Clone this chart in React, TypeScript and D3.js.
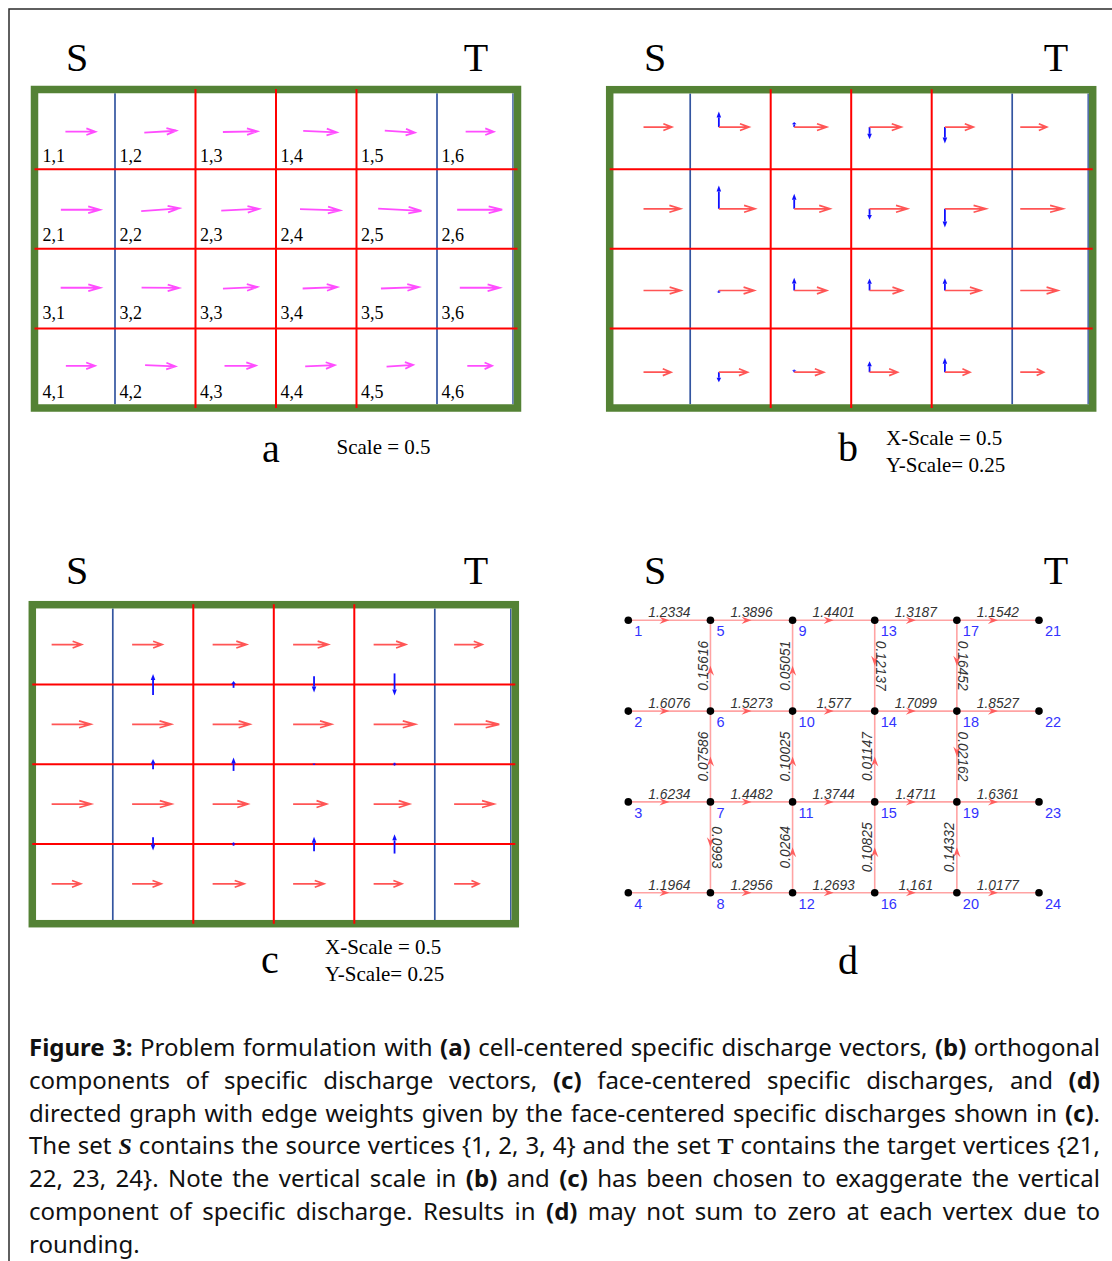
import React, { useMemo } from 'react';
import * as d3 from 'd3';

const WIDTH = 1112;
const HEIGHT = 1261;

// ---- data -------------------------------------------------------------
const ROWS = [0, 1, 2, 3];
const COLS = [0, 1, 2, 3, 4, 5];

// Face-centred horizontal discharge through interior faces (graph edge weights), one array per row
const hWeights: number[][] = [
  [1.2334, 1.3896, 1.4401, 1.3187, 1.1542],
  [1.6076, 1.5273, 1.577, 1.7099, 1.8527],
  [1.6234, 1.4482, 1.3744, 1.4711, 1.6361],
  [1.1964, 1.2956, 1.2693, 1.161, 1.0177],
];
// Inflow through the left boundary face of each row
const leftInflow = [1.2334, 1.6076, 1.6234, 1.1964];
// Vertical discharge through the interior horizontal faces (+ = upward), grid columns 2..5
const vFlux: number[][] = [
  [0.15616, 0.05051, -0.12137, -0.16452],
  [0.07586, 0.10025, 0.01147, -0.02162],
  [-0.0993, 0.0264, 0.10825, 0.14332],
];
// Cell-centred specific discharge components
const cellQx: number[][] = [
  [1.233, 1.312, 1.415, 1.379, 1.236, 1.154],
  [1.608, 1.567, 1.552, 1.643, 1.781, 1.853],
  [1.623, 1.536, 1.411, 1.423, 1.554, 1.636],
  [1.196, 1.246, 1.282, 1.215, 1.089, 1.018],
];
const cellQy: number[][] = [
  [0, 0.078, 0.025, -0.061, -0.082, 0],
  [0, 0.116, 0.075, -0.055, -0.093, 0],
  [0, -0.012, 0.063, 0.06, 0.061, 0],
  [0, -0.05, 0.013, 0.054, 0.072, 0],
];

const panelLetters = ['a', 'b', 'c', 'd'];
const scaleNotes = [['Scale = 0.5'], ['X-Scale = 0.5', 'Y-Scale= 0.25'], ['X-Scale = 0.5', 'Y-Scale= 0.25'], []];

const captionLines = [
  '*Figure* *3:* Problem formulation with *(a)* cell-centered specific discharge vectors, *(b)* orthogonal',
  'components of specific discharge vectors, *(c)* face-centered specific discharges, and *(d)*',
  'directed graph with edge weights given by the face-centered specific discharges shown in *(c)*.',
  'The set ^S^ contains the source vertices {1, 2, 3, 4} and the set ~T~ contains the target vertices {21,',
  '22, 23, 24}. Note the vertical scale in *(b)* and *(c)* has been chosen to exaggerate the vertical',
  'component of specific discharge. Results in *(d)* may not sum to zero at each vertex due to',
  'rounding.',
];

// ---- styling ----------------------------------------------------------
const SERIF = '"Liberation Serif", "Times New Roman", serif';
const SANS = '"Liberation Sans", Arial, sans-serif';
const CAPTION_FONT = '"Noto Sans", sans-serif';
const CAPTION_SIZE = 24;
const GREEN = '#548235';
const GRID_RED = '#ff0000';
const GRID_BLUE = '#3355a0';
const MAGENTA = '#ff4dff';
const ARROW_RED = '#ff5555';
const ARROW_BLUE = '#1010ff';
const FRAME_W = 7.5;

type Frame = { x: number; y: number; w: number; h: number };
const FRAME_A: Frame = { x: 34.5, y: 89.5, w: 483, h: 318.5 };
const FRAME_B: Frame = { x: 609.7, y: 89.7, w: 483, h: 318.3 };
const FRAME_C: Frame = { x: 32.3, y: 604.7, w: 483, h: 319 };

const gridScales = (f: Frame) => ({
  gx: d3.scaleLinear().domain([0, 6]).range([f.x, f.x + f.w]),
  gy: d3.scaleLinear().domain([0, 4]).range([f.y, f.y + f.h]),
});

// open chevron arrow (shaft + two barbs)
function chevron(x1: number, y1: number, x2: number, y2: number, hl: number, hw: number) {
  const dx = x2 - x1, dy = y2 - y1;
  const L = Math.hypot(dx, dy);
  if (L < 0.01) return '';
  const ux = dx / L, uy = dy / L, px = -uy, py = ux;
  const bx = x2 - ux * hl, by = y2 - uy * hl;
  return `M${x1},${y1}L${x2},${y2}M${bx + px * hw},${by + py * hw}L${x2},${y2}L${bx - px * hw},${by - py * hw}`;
}

// shaft + filled triangular head
function solidArrow(x1: number, y1: number, x2: number, y2: number, hl: number, hw: number) {
  const dx = x2 - x1, dy = y2 - y1;
  const L = Math.hypot(dx, dy);
  if (L < 0.01) return { shaft: '', head: '' };
  const ux = dx / L, uy = dy / L, px = -uy, py = ux;
  const h = Math.min(hl, L * 0.45);
  const bx = x2 - ux * h, by = y2 - uy * h;
  return {
    shaft: `M${x1},${y1}L${bx},${by}`,
    head: `M${x2},${y2}L${bx + px * hw},${by + py * hw}L${bx - px * hw},${by - py * hw}Z`,
  };
}

function GridFrame({ f }: { f: Frame }) {
  const { gx, gy } = gridScales(f);
  const inTop = f.y + FRAME_W / 2;
  const inBot = f.y + f.h - FRAME_W / 2;
  const inRight = f.x + f.w - FRAME_W / 2;
  return (
    <g>
      <rect x={f.x} y={f.y} width={f.w} height={f.h} fill="#fff" />
      {[1, 5].map((k) => (
        <line key={k} x1={gx(k)} x2={gx(k)} y1={inTop} y2={inBot} stroke={GRID_BLUE} strokeWidth={1.7} />
      ))}
      <line x1={inRight - 0.8} x2={inRight - 0.8} y1={inTop} y2={inBot} stroke={GRID_BLUE} strokeWidth={1.4} />
      <rect x={f.x} y={f.y} width={f.w} height={f.h} fill="none" stroke={GREEN} strokeWidth={FRAME_W} />
      {[2, 3, 4].map((k) => (
        <line key={k} x1={gx(k)} x2={gx(k)} y1={f.y - 0.5} y2={f.y + f.h} stroke={GRID_RED} strokeWidth={2} />
      ))}
      {[1, 2, 3].map((k) => (
        <line key={k} x1={f.x} x2={f.x + f.w} y1={gy(k)} y2={gy(k)} stroke={GRID_RED} strokeWidth={2} />
      ))}
    </g>
  );
}

function STLabels({ xs, xt, y }: { xs: number; xt: number; y: number }) {
  return (
    <g fontFamily={SERIF} fontSize={40} textAnchor="middle" fill="#000">
      <text x={xs} y={y}>S</text>
      <text x={xt} y={y}>T</text>
    </g>
  );
}

// (a) cell-centred vectors
function PanelA() {
  const f = FRAME_A;
  const { gx, gy } = gridScales(f);
  const ax = d3.scaleLinear().domain([0, 5]).range([gx(0.57), gx(5.53)]);
  const ay = d3.scaleLinear().domain([0, 3]).range([gy(0.53), gy(3.47)]);
  const labelY = d3.scaleLinear().domain([0, 3]).range([gy(0.91), gy(3.87)]);
  const k = d3.scaleLinear().domain([0, 1]).range([0, 24.3]);
  return (
    <g>
      <GridFrame f={f} />
      {ROWS.map((r) =>
        COLS.map((c) => {
          const vx = k(cellQx[r][c]);
          const vy = -k(cellQy[r][c]);
          const cx = ax(c), cy = ay(r);
          const L = Math.hypot(vx, vy);
          return (
            <path
              key={`${r}-${c}`}
              d={chevron(cx - vx / 2, cy - vy / 2, cx + vx / 2, cy + vy / 2, L * 0.3, 3.3)}
              fill="none"
              stroke={MAGENTA}
              strokeWidth={1.8}
            />
          );
        })
      )}
      <g fontFamily={SERIF} fontSize={18} fill="#000">
        {ROWS.map((r) =>
          COLS.map((c) => (
            <text key={`${r}-${c}`} x={c === 0 ? gx(0) + 8 : gx(c) + 4.5} y={labelY(r)}>
              {`${r + 1},${c + 1}`}
            </text>
          ))
        )}
      </g>
    </g>
  );
}

// (b) orthogonal components of cell-centred vectors
function PanelB() {
  const f = FRAME_B;
  const { gx, gy } = gridScales(f);
  const ax = d3.scaleLinear().domain([0, 5]).range([gx(0.42), gx(5.1)]);
  const ay = d3.scaleLinear().domain([0, 3]).range([gy(0.47), gy(3.55)]);
  const kx = d3.scaleLinear().domain([0, 1]).range([0, 23]);
  const ky = d3.scaleLinear().domain([0, 1]).range([0, 201]);
  return (
    <g>
      <GridFrame f={f} />
      {ROWS.map((r) =>
        COLS.map((c) => {
          const x0 = ax(c), y0 = ay(r);
          const L = kx(cellQx[r][c]);
          const v = solidArrow(x0, y0, x0, y0 - ky(cellQy[r][c]), 6, 2.3);
          return (
            <g key={`${r}-${c}`}>
              <path d={v.shaft} stroke={ARROW_BLUE} strokeWidth={1.8} fill="none" />
              <path d={v.head} fill={ARROW_BLUE} />
              <path d={chevron(x0, y0, x0 + L, y0, L * 0.3, 3.4)} fill="none" stroke={ARROW_RED} strokeWidth={1.7} />
            </g>
          );
        })
      )}
    </g>
  );
}

// (c) face-centred discharges
function PanelC() {
  const f = FRAME_C;
  const { gx, gy } = gridScales(f);
  const kx = d3.scaleLinear().domain([0, 1]).range([0, 24.35]);
  const ky = d3.scaleLinear().domain([0, 1]).range([0, 134]);
  return (
    <g>
      <GridFrame f={f} />
      {ROWS.map((r) =>
        COLS.map((c) => {
          const q = c === 0 ? leftInflow[r] : hWeights[r][c - 1];
          const x0 = gx(c + 0.24), y0 = gy(r + 0.5);
          const L = kx(q);
          return (
            <path
              key={`${r}-${c}`}
              d={chevron(x0, y0, x0 + L, y0, L * 0.3, 3.4)}
              fill="none"
              stroke={ARROW_RED}
              strokeWidth={1.7}
            />
          );
        })
      )}
      {vFlux.map((row, k) =>
        row.map((q, c) => {
          const x0 = gx(c + 1.5), yc = gy(k + 1);
          const L = ky(q);
          const v = solidArrow(x0, yc + L / 2, x0, yc - L / 2, 6, 2.3);
          return (
            <g key={`${k}-${c}`}>
              <path d={v.shaft} stroke={ARROW_BLUE} strokeWidth={1.8} fill="none" />
              <path d={v.head} fill={ARROW_BLUE} />
            </g>
          );
        })
      )}
    </g>
  );
}

// (d) directed graph; vertex id = column*4 + row + 1
function PanelD() {
  const dx = d3.scaleLinear().domain([0, 5]).range([628.3, 1039]);
  const dy = d3.scaleLinear().domain([0, 3]).range([620.3, 892.7]);
  const edges: { x1: number; y1: number; x2: number; y2: number; w: number }[] = [];
  hWeights.forEach((row, r) =>
    row.forEach((w, c) => edges.push({ x1: dx(c), y1: dy(r), x2: dx(c + 1), y2: dy(r), w }))
  );
  vFlux.forEach((row, k) =>
    row.forEach((q, c) => {
      const x = dx(c + 1);
      if (q >= 0) edges.push({ x1: x, y1: dy(k + 1), x2: x, y2: dy(k), w: q });
      else edges.push({ x1: x, y1: dy(k), x2: x, y2: dy(k + 1), w: -q });
    })
  );
  const head = (e: typeof edges[0]) => {
    const L = Math.hypot(e.x2 - e.x1, e.y2 - e.y1);
    const ux = (e.x2 - e.x1) / L, uy = (e.y2 - e.y1) / L, px = -uy, py = ux;
    const tx = (e.x1 + e.x2) / 2, ty = (e.y1 + e.y2) / 2;
    const b = 10, n = 6.5, hw = 3.6;
    return `M${tx},${ty}L${tx - ux * b + px * hw},${ty - uy * b + py * hw}L${tx - ux * n},${ty - uy * n}L${tx - ux * b - px * hw},${ty - uy * b - py * hw}Z`;
  };
  return (
    <g>
      {edges.map((e, i) => (
        <line key={i} x1={e.x1} y1={e.y1} x2={e.x2} y2={e.y2} stroke="#ffa3a3" strokeWidth={1.6} />
      ))}
      {edges.map((e, i) => (
        <path key={i} d={head(e)} fill="#ff5e5e" />
      ))}
      <g fontFamily={SANS} fontStyle="italic" fontSize={13.8} fill="#333" textAnchor="middle">
        {edges.map((e, i) => {
          const mx = (e.x1 + e.x2) / 2, my = (e.y1 + e.y2) / 2;
          let t = `translate(${mx},${my - 3})`;
          if (e.x1 === e.x2) t = e.y2 < e.y1 ? `translate(${mx - 2.5},${my}) rotate(-90)` : `translate(${mx + 1.5},${my}) rotate(90)`;
          return (
            <text key={i} transform={t}>
              {String(e.w)}
            </text>
          );
        })}
      </g>
      {COLS.map((c) =>
        ROWS.map((r) => (
          <g key={`${c}-${r}`}>
            <circle cx={dx(c)} cy={dy(r)} r={3.8} fill="#000" />
            <text x={dx(c) + 6} y={dy(r) + 16} fontFamily={SANS} fontSize={14.5} fill="#3333ff">
              {c * 4 + r + 1}
            </text>
          </g>
        ))
      )}
    </g>
  );
}

type Seg = { t: string; kind: 'n' | 'b' | 'si' | 's' };
function parseWord(w: string): Seg[] {
  const segs: Seg[] = [];
  const re = /\*([^*]+)\*|\^([^^]+)\^|~([^~]+)~|([^*^~]+)/g;
  let m: RegExpExecArray | null;
  while ((m = re.exec(w))) {
    if (m[1]) segs.push({ t: m[1], kind: 'b' });
    else if (m[2]) segs.push({ t: m[2], kind: 'si' });
    else if (m[3]) segs.push({ t: m[3], kind: 's' });
    else segs.push({ t: m[4], kind: 'n' });
  }
  return segs;
}
const segFont = (s: Seg) => {
  if (s.kind === 'b') return `bold ${CAPTION_SIZE}px ${CAPTION_FONT}`;
  if (s.kind === 'si') return `italic bold ${CAPTION_SIZE}px ${SERIF}`;
  if (s.kind === 's') return `bold ${CAPTION_SIZE}px ${SERIF}`;
  return `${CAPTION_SIZE}px ${CAPTION_FONT}`;
};

function Caption() {
  const layout = useMemo(() => {
    const ctx = document.createElement('canvas').getContext('2d')!;
    const measure = (s: Seg) => {
      ctx.font = segFont(s);
      return ctx.measureText(s.t).width;
    };
    ctx.font = `${CAPTION_SIZE}px ${CAPTION_FONT}`;
    const space = ctx.measureText(' ').width;
    const left = 29, right = 1100;
    return captionLines.map((line, li) => {
      const words = line.split(' ').map(parseWord);
      const widths = words.map((ws) => ws.reduce((a, s) => a + measure(s), 0));
      const total = widths.reduce((a, b) => a + b, 0);
      const last = li === captionLines.length - 1;
      const gap = last || words.length < 2 ? space : (right - left - total) / (words.length - 1);
      let x = left;
      return words.map((segs, i) => {
        const wx = x;
        x += widths[i] + gap;
        return { x: wx, segs };
      });
    });
  }, []);
  const y0 = 1056, lh = 32.8;
  return (
    <g fill="#111" fontSize={CAPTION_SIZE}>
      {layout.map((words, li) => (
        <text key={li} y={y0 + li * lh} fontFamily={CAPTION_FONT}>
          {words.map((w, wi) =>
            w.segs.map((s, si) => (
              <tspan
                key={`${wi}-${si}`}
                x={si === 0 ? w.x : undefined}
                fontWeight={s.kind === 'n' ? 'normal' : 'bold'}
                fontStyle={s.kind === 'si' ? 'italic' : 'normal'}
                fontFamily={s.kind === 'si' || s.kind === 's' ? SERIF : CAPTION_FONT}
              >
                {s.t}
              </tspan>
            ))
          )}
        </text>
      ))}
    </g>
  );
}

export default function App() {
  return (
    <div style={{ position: 'absolute', left: 0, top: 0, width: WIDTH, height: HEIGHT, overflow: 'hidden' }}>
      <svg width={WIDTH} height={HEIGHT} viewBox={`0 0 ${WIDTH} ${HEIGHT}`} style={{ display: 'block', background: '#fff' }}>
        <rect x={9} y={9} width={WIDTH + 20} height={HEIGHT + 20} fill="#fff" stroke="#2b2b2b" strokeWidth={1.5} />
        <STLabels xs={77} xt={476} y={70.7} />
        <STLabels xs={655} xt={1056} y={70.7} />
        <STLabels xs={77} xt={476} y={584} />
        <STLabels xs={655} xt={1056} y={584} />
        <PanelA />
        <PanelB />
        <PanelC />
        <PanelD />
        <g fontFamily={SERIF} fill="#000">
          <text x={271} y={461.5} fontSize={40} textAnchor="middle">{panelLetters[0]}</text>
          <text x={848} y={461} fontSize={40} textAnchor="middle">{panelLetters[1]}</text>
          <text x={270} y={973} fontSize={40} textAnchor="middle">{panelLetters[2]}</text>
          <text x={848} y={974} fontSize={40} textAnchor="middle">{panelLetters[3]}</text>
          <text x={336.5} y={454} fontSize={21}>{scaleNotes[0][0]}</text>
          <text x={886} y={445} fontSize={21}>{scaleNotes[1][0]}</text>
          <text x={886} y={472} fontSize={21}>{scaleNotes[1][1]}</text>
          <text x={325} y={954} fontSize={21}>{scaleNotes[2][0]}</text>
          <text x={325} y={981} fontSize={21}>{scaleNotes[2][1]}</text>
        </g>
        <Caption />
      </svg>
    </div>
  );
}
